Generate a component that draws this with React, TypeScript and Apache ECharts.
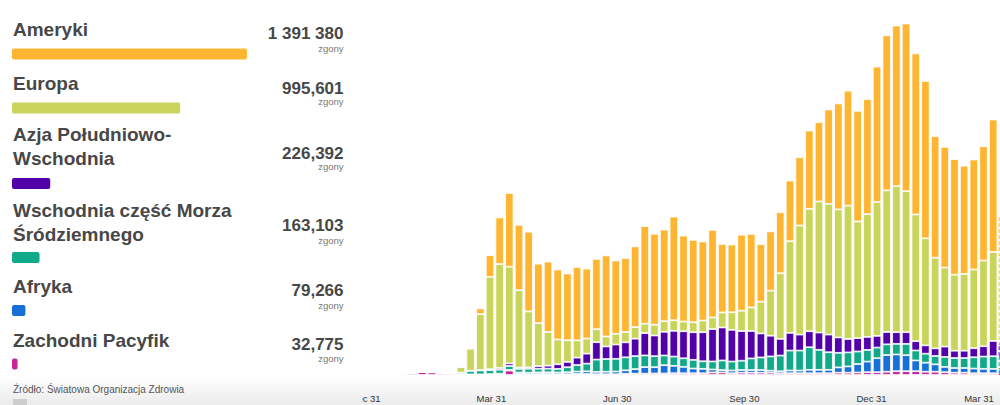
import React, { useEffect, useRef } from 'react';
import * as echarts from 'echarts';

const FONT = '"Liberation Sans", Arial, Helvetica, sans-serif';
const DAY = 86400000;

// ---------- legend / totals ----------
const regionNames = [
  'Ameryki',
  'Europa',
  'Azja Południowo-\nWschodnia',
  'Wschodnia część Morza\nŚródziemnego',
  'Afryka',
  'Zachodni Pacyfik',
];
const regionColors = ['#feb632', '#c8d45a', '#5200a8', '#12a98b', '#1870d6', '#c52896'];
const totals = [1391380, 995601, 226392, 163103, 79266, 32775];
const totalLabels = ['1 391 380', '995,601', '226,392', '163,103', '79,266', '32,775'];
const unitLabel = 'zgony';
const sourceText = 'Źródło: Światowa Organizacja Zdrowia';

// ---------- weekly deaths (one bar per week, weeks starting firstWeekStart) ----------
const firstWeekStart = '2020-01-20';
const monthAbbr = ['Jan', 'Feb', 'Mar', 'Apr', 'May', 'Jun', 'Jul', 'Aug', 'Sep', 'Oct', 'Nov', 'Dec'];
const tickDates = ['2019-12-31', '2020-03-31', '2020-06-30', '2020-09-30', '2020-12-31', '2021-03-31'];
const axisStart = '2019-12-31';

const americas = [
  0, 0, 0, 0, 0, 0, 0, 90, 140, 1620,
  6180, 13280, 21000, 18610, 22710, 16930, 20060, 19950, 19010, 20890,
  19950, 20040, 23090, 20890, 21090, 23000, 27820, 25940, 26130, 29550,
  24510, 23480, 22520, 24990, 19490, 19290, 21660, 20920, 16440, 16900,
  17390, 17300, 19470, 22320, 22600, 26880, 30210, 32780, 31550, 32780,
  38560, 44180, 45800, 47790, 45890, 44830, 34680, 34400, 32970, 30870,
  31350, 32580, 37730, 11400,
];
const europe = [
  0, 0, 0, 0, 0, 0, 230, 1570, 6270, 15960,
  26310, 29640, 27560, 22060, 15960, 12260, 9580, 7040, 6180, 4930,
  4280, 3710, 2850, 3050, 2940, 3310, 2680, 3050, 3020, 3020,
  2760, 2850, 3330, 3310, 4280, 5020, 5790, 6730, 9030, 12830,
  18700, 26110, 31070, 34880, 37340, 37250, 36480, 37990, 33230, 34970,
  38190, 40380, 41610, 40190, 36110, 30500, 25820, 22520, 21660, 21860,
  22430, 24420, 25370, 24800,
];
const seAsia = [
  0, 0, 0, 0, 0, 0, 0, 60, 60, 90,
  290, 480, 740, 370, 370, 740, 860, 1340, 1510, 2110,
  2850, 4960, 3590, 4080, 4280, 4960, 6360, 5900, 6750, 7320,
  7700, 7870, 8270, 9230, 9410, 9030, 8460, 7810, 6840, 5900,
  4760, 5040, 4560, 4560, 4930, 5040, 4390, 3820, 3820, 3710,
  3330, 3510, 3330, 3330, 2650, 2390, 2190, 2940, 2080, 2080,
  2570, 2940, 4360, 3990,
];
const easternMed = [
  0, 0, 0, 0, 0, 0, 90, 430, 1000, 1140,
  1140, 1140, 1140, 1050, 1140, 1050, 1050, 1030, 1430, 1880,
  2190, 3510, 3620, 3620, 3710, 3710, 3330, 3140, 2760, 2650,
  2450, 2480, 2170, 2280, 2740, 2570, 2650, 3310, 3590, 4080,
  4470, 5700, 5700, 6440, 5700, 5020, 4160, 3990, 3590, 3330,
  3020, 3050, 3020, 3220, 2850, 2570, 2370, 2850, 2850, 2850,
  3220, 3510, 3620, 3420,
];
const africa = [
  0, 0, 0, 0, 0, 0, 0, 0, 60, 60,
  90, 90, 140, 370, 430, 480, 480, 480, 570, 680,
  770, 660, 710, 770, 1000, 1310, 1880, 1800, 2370, 2110,
  1820, 1340, 1250, 860, 680, 770, 770, 770, 770, 570,
  570, 770, 770, 970, 970, 970, 1510, 1800, 2390, 3020,
  3990, 4760, 4760, 4560, 3050, 2570, 2110, 1510, 1340, 1340,
  1340, 1250, 1230, 1140,
];
const westernPacific = [
  180, 380, 580, 880, 750, 500, 380, 200, 110, 110,
  150, 280, 1280, 330, 220, 260, 280, 220, 220, 280,
  280, 220, 220, 220, 330, 370, 370, 430, 430, 500,
  500, 500, 500, 720, 720, 500, 650, 650, 650, 650,
  500, 500, 500, 500, 500, 500, 650, 650, 720, 800,
  800, 930, 1090, 1090, 1090, 930, 930, 800, 650, 650,
  500, 500, 500, 430,
];
// the last week is incomplete (drawn dashed)
const lastWeekPartial = true;

// ---------- helpers ----------
function utc(s: string): number {
  const [y, m, d] = s.split('-').map(Number);
  return Date.UTC(y, m - 1, d);
}
function iso(ts: number): string {
  return new Date(ts).toISOString().slice(0, 10);
}

// ---------- layout (positions only) ----------
const LEFT_W = 362;
const CHART_W = 1000 - LEFT_W;
const LABEL_GRID_LEFT = 3.6;      // where the axis start date sits
const PX_PER_DAY = 1.3824;
const FIRST_BAR_CENTER = 31.2;    // in chart-div pixels
const Y_MAX = 106875;
const BOTTOM = 30;

const titleTops = [17.55, 71.55, 123.05, 198.85, 274.25, 328.25];
const barTops = [48.5, 102.5, 178, 252, 305, 358.5];
const valueMids = [33.3, 88, 153.3, 225.6, 290.7, 344.7];
const unitMids = [48.6, 101.9, 166.9, 240, 305.2, 358.6];

function buildLeft(): any {
  const n = regionNames.length;
  const graphic: any[] = [];
  for (let i = 0; i < n; i++) {
    graphic.push({
      type: 'text', x: 13, y: titleTops[i], silent: true,
      style: {
        text: regionNames[i], fontSize: 19, fontWeight: 'bold', fontFamily: FONT,
        fill: '#474747', align: 'left', verticalAlign: 'top', lineHeight: 23.5,
      },
    });
    graphic.push({
      type: 'text', x: 343.5, y: valueMids[i], silent: true,
      style: {
        text: totalLabels[i], fontSize: 17, fontWeight: 'bold', fontFamily: FONT,
        fill: '#474747', align: 'right', verticalAlign: 'middle', lineHeight: 13,
      },
    });
    graphic.push({
      type: 'text', x: 343.5, y: unitMids[i], silent: true,
      style: {
        text: unitLabel, fontSize: 9.5, fontFamily: FONT, lineHeight: 9,
        fill: '#777777', align: 'right', verticalAlign: 'middle',
      },
    });
  }
  graphic.push({
    type: 'text', x: 13, y: 389.5, silent: true,
    style: { text: sourceText, fontSize: 10, fontFamily: FONT, fill: '#555555', align: 'left', verticalAlign: 'middle' },
  });
  graphic.push({
    type: 'rect', silent: true,
    shape: { x: 13, y: 399, width: 14, height: 8 },
    style: { fill: '#cdcdcd' },
  });

  return {
    animation: false,
    backgroundColor: 'transparent',
    grid: regionNames.map((_, i) => ({
      left: 12, top: barTops[i], width: 235, height: 11,
      containLabel: false, outerBoundsMode: 'none',
    })),
    xAxis: regionNames.map((_, i) => ({
      type: 'value', gridIndex: i, min: 0, max: totals[0], show: false,
    })),
    yAxis: regionNames.map((r, i) => ({
      type: 'category', gridIndex: i, data: [r], show: false,
    })),
    series: regionNames.map((r, i) => ({
      type: 'bar', name: r, xAxisIndex: i, yAxisIndex: i, data: [totals[i]],
      barWidth: 11, silent: true,
      itemStyle: { color: regionColors[i], borderRadius: 2 },
    })),
    graphic,
  };
}

function buildChart(): any {
  const n = americas.length;
  const start = utc(firstWeekStart);
  const weekCats = americas.map((_, i) => iso(start + i * 7 * DAY));

  // label axis (value axis of dates, ms)
  const axisMin = utc(axisStart);
  const labelGridWidth = CHART_W - LABEL_GRID_LEFT;
  const axisMax = axisMin + (labelGridWidth / PX_PER_DAY) * DAY;
  const tickTs = tickDates.map(utc);
  const lastTick = tickTs[tickTs.length - 1];

  // bar grid: one band per week
  const band = PX_PER_DAY * 7;
  const barGridLeft = FIRST_BAR_CENTER - band / 2;
  const barGridWidth = band * n;

  const stackOrder = [
    { name: regionNames[5], data: westernPacific, color: regionColors[5] },
    { name: regionNames[4], data: africa, color: regionColors[4] },
    { name: regionNames[3], data: easternMed, color: regionColors[3] },
    { name: regionNames[2], data: seAsia, color: regionColors[2] },
    { name: regionNames[1], data: europe, color: regionColors[1] },
    { name: regionNames[0], data: americas, color: regionColors[0] },
  ];

  const series = stackOrder.map((s) => ({
    type: 'bar',
    name: s.name,
    stack: 'all',
    xAxisIndex: 0,
    yAxisIndex: 0,
    barWidth: 8.4,
    silent: true,
    itemStyle: { color: s.color, borderColor: '#ffffff', borderWidth: 0.8 },
    data: s.data.map((v, i) => {
      if (lastWeekPartial && i === s.data.length - 1) {
        return {
          value: v,
          itemStyle: { color: 'rgba(255,255,255,0)', borderColor: s.color, borderWidth: 1, borderType: 'dashed' },
        };
      }
      return v;
    }),
  }));

  const fmt = (val: number) => {
    const d = new Date(val);
    const t = `${monthAbbr[d.getUTCMonth()]} ${d.getUTCDate()}`;
    return Math.abs(val - lastTick) < DAY / 2 ? `{last|${t}}` : t;
  };

  return {
    animation: false,
    backgroundColor: 'transparent',
    grid: [
      { left: barGridLeft, width: barGridWidth, top: 0, bottom: BOTTOM, containLabel: false, outerBoundsMode: 'none' },
      { left: LABEL_GRID_LEFT, right: 0, top: 0, bottom: BOTTOM, containLabel: false, outerBoundsMode: 'none' },
    ],
    xAxis: [
      {
        type: 'category', gridIndex: 0, data: weekCats, position: 'top', boundaryGap: true,
        axisLine: { show: false }, axisTick: { show: false }, axisLabel: { show: false }, splitLine: { show: false },
      },
      {
        type: 'value', gridIndex: 1, position: 'bottom', min: axisMin, max: axisMax,
        axisLine: { show: false }, axisTick: { show: false }, splitLine: { show: false },
        axisLabel: {
          customValues: tickTs,
          formatter: fmt,
          color: '#333333',
          fontSize: 9.5,
          fontFamily: FONT,
          lineHeight: 10,
          margin: 18,
          hideOverlap: false,
          showMinLabel: true,
          showMaxLabel: true,
          rich: {
            last: { padding: [0, 34, 0, 0], fontSize: 9.5, fontFamily: FONT, color: '#333333', lineHeight: 10 },
          },
        },
      },
    ],
    yAxis: [
      { type: 'value', gridIndex: 0, min: 0, max: Y_MAX, show: false },
      { type: 'value', gridIndex: 1, min: 0, max: 1, show: false },
    ],
    series,
  };
}

export default function App() {
  const leftRef = useRef<HTMLDivElement>(null);
  const chartRef = useRef<HTMLDivElement>(null);

  useEffect(() => {
    const left = echarts.init(leftRef.current as HTMLDivElement, undefined, { renderer: 'svg' });
    const chart = echarts.init(chartRef.current as HTMLDivElement, undefined, { renderer: 'svg' });
    left.setOption(buildLeft());
    chart.setOption(buildChart());
    return () => {
      left.dispose();
      chart.dispose();
    };
  }, []);

  return (
    <div style={{ position: 'fixed', left: 0, top: 0, width: 1000, height: 405, background: '#ffffff', overflow: 'hidden' }}>
      <div
        style={{
          position: 'absolute', left: 0, top: 376, width: 1000, height: 29,
          background: 'linear-gradient(to bottom, rgba(236,236,236,0), #ebebeb)',
        }}
      />
      <div ref={leftRef} style={{ position: 'absolute', left: 0, top: 0, width: LEFT_W, height: 405 }} />
      <div ref={chartRef} style={{ position: 'absolute', left: LEFT_W, top: 0, width: CHART_W, height: 405 }} />
    </div>
  );
}
